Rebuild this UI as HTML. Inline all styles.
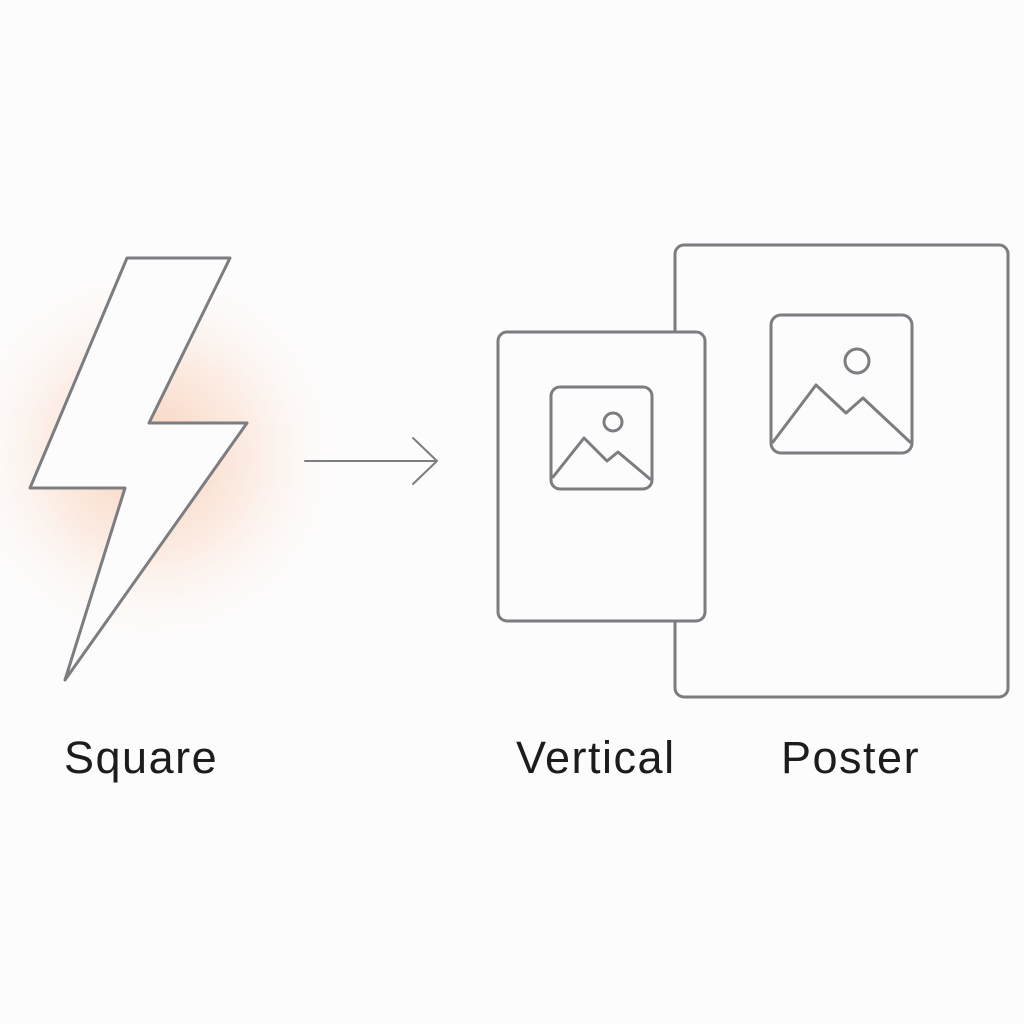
<!DOCTYPE html>
<html><head><style>
html,body{margin:0;padding:0;background:#fdfcfc;}
body{width:1024px;height:1024px;position:relative;overflow:hidden;font-family:"Liberation Sans",sans-serif;}
.t{position:absolute;font-size:45px;color:#1c1c1c;top:732px;letter-spacing:1.5px;}
</style></head><body>
<svg width="1024" height="1024" style="position:absolute;left:0;top:0">
<defs>
<radialGradient id="g" cx="150" cy="455" r="200" gradientUnits="userSpaceOnUse">
<stop offset="0" stop-color="#f6b894" stop-opacity="0.65"/>
<stop offset="0.5" stop-color="#f9cdb3" stop-opacity="0.35"/>
<stop offset="1" stop-color="#fdfcfc" stop-opacity="0"/>
</radialGradient>
</defs>
<ellipse cx="150" cy="455" rx="200" ry="200" fill="url(#g)"/>
<g fill="none" stroke="#7b7d80" stroke-width="3" stroke-linejoin="round" stroke-linecap="round">
<polygon points="127,258 230,258 149,423 247,423 65,680 125,488 30,488" fill="#fdfcfc"/>
<line x1="305" y1="461" x2="437" y2="461" stroke-width="2"/>
<polyline points="413,438 437,461 413,484" stroke-width="2"/>
<rect x="675" y="245" width="333" height="452" rx="9" fill="#fdfcfc"/>
<rect x="498" y="332" width="207" height="289" rx="9" fill="#fdfcfc"/>
<rect x="771" y="315" width="141" height="138" rx="10"/>
<circle cx="857" cy="361" r="12"/>
<polyline points="773,442 816,385 846,413 863,398 910,442"/>
<rect x="551" y="387" width="101" height="102" rx="9"/>
<circle cx="613" cy="422" r="9"/>
<polyline points="553,477 584,438 607,461 618,452 650,479"/>
</g>
</svg>
<div class="t" style="left:64px">Square</div>
<div class="t" style="left:516px">Vertical</div>
<div class="t" style="left:781px">Poster</div>
</body></html>
